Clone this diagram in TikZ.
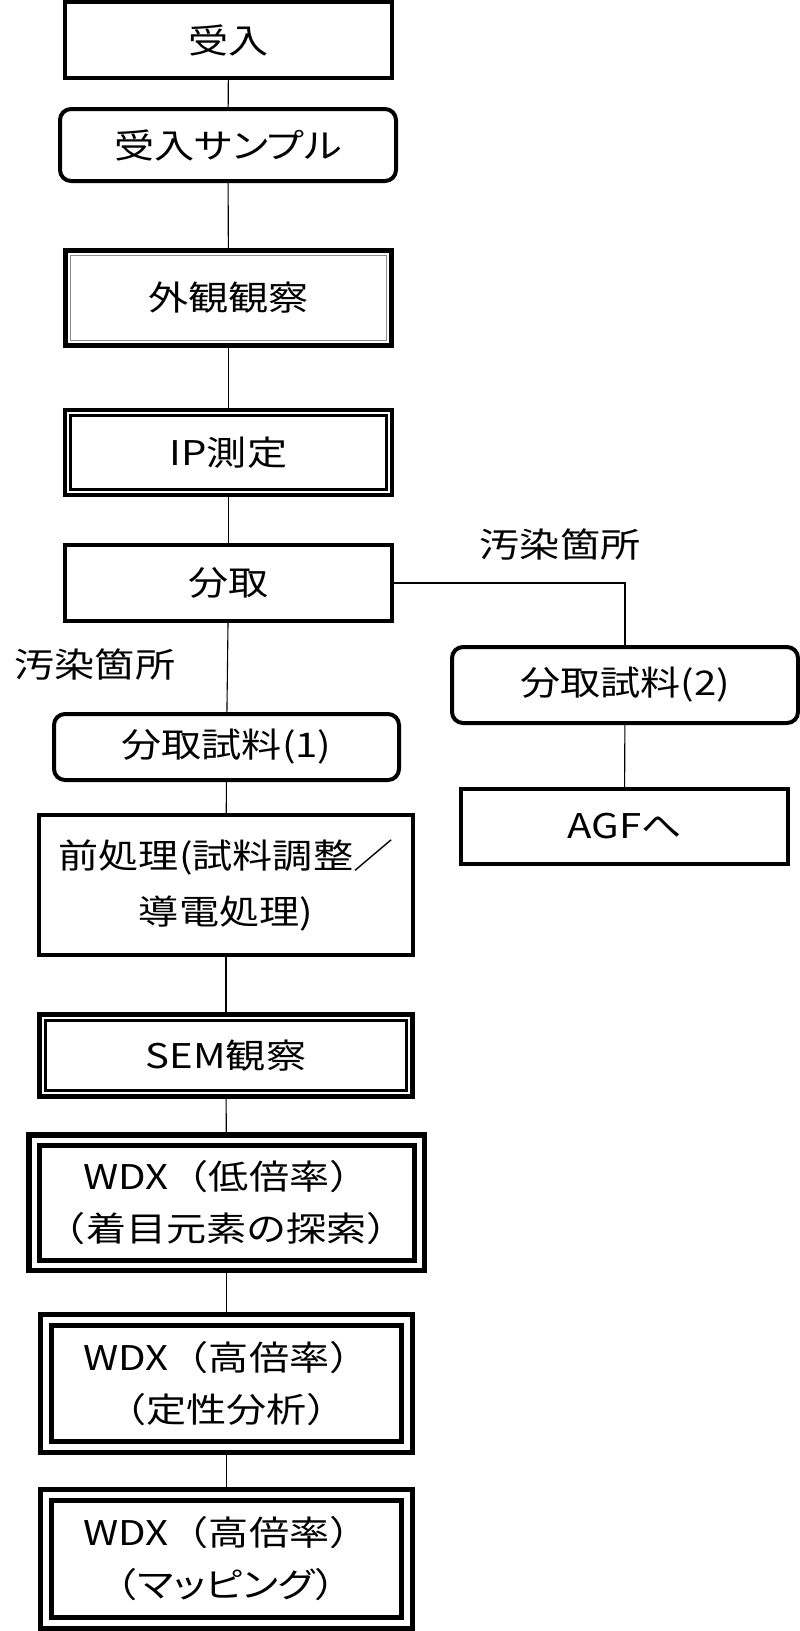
\documentclass[tikz,border=0pt]{standalone}
\usepackage{fontspec}
\setmainfont{Noto Sans CJK JP}[FakeStretch=1.18]
\newfontfamily\kanafont{Noto Sans CJK JP}[FakeStretch=1.18, RawFeature=+palt]
\begin{document}
\begin{tikzpicture}[x=1pt,y=-1pt]

    \tikzset{
      box/.style={
        draw,
        line width=4pt,
        inner sep=0pt,
        align=center,
        font=\fontsize{34}{52}\selectfont,
      },
      roundbox/.style={
        box,
        rounded corners=11pt,
      },
      dblbox/.style n args={4}{
        box,
        line width=#1,
        path picture={
          \draw[line width=#3,color=#4]
            ([shift={(#2,#2)}]path picture bounding box.south west) rectangle
            ([shift={(-#2,-#2)}]path picture bounding box.north east);
        },
      },
      tagtext/.style={font=\fontsize{34}{52}\selectfont, inner sep=0pt},
      link/.style={line width=1.1pt},
    }
    \useasboundingbox (0,0) rectangle (800,1631);

	\node[box, minimum width=327pt, minimum height=76pt] (ukeire) at (228.5,40) {受入};
	\node[roundbox, minimum width=336pt, minimum height=72pt] (ukesample) at (228,145) {受入{\kanafont サンプル}};
	\node[dblbox={5pt}{5pt}{1pt}{black!45}, minimum width=326pt, minimum height=95pt] (gaikan) at (228.5,298) {外観観察};
	\node[dblbox={4pt}{5.5pt}{3pt}{black}, minimum width=327pt, minimum height=85pt] (ipsoku) at (228.5,452.5) {IP測定};
	\node[box, minimum width=327pt, minimum height=76pt] (bunshu) at (228.5,583) {分取};
	\node[tagtext] (osen1) at (95,665) {汚染箇所};
	\node[roundbox, minimum width=345pt, minimum height=66pt] (bunshu1) at (226.5,747) {分取試料(1)};
	\node[tagtext] (osen2) at (560,545) {汚染箇所};
	\node[roundbox, minimum width=346pt, minimum height=76pt] (bunshu2) at (625,685) {分取試料(2)};
	\node[box, minimum width=327pt, minimum height=75pt] (agf) at (624.5,826.5) {AGFへ};
	\node[box, minimum width=374pt, minimum height=140pt] (maeshori) at (226,885) {前処理(試料調整／\\[4pt]導電処理)};
	\node[dblbox={5pt}{6pt}{3pt}{black}, minimum width=373pt, minimum height=82pt] (sem) at (226,1055.5) {SEM観察};
	\node[dblbox={5.5pt}{10.25pt}{5pt}{black}, minimum width=395.5pt, minimum height=135.5pt] (wdxlow) at (226.5,1202.5) {WDX（低倍率）\\（着目元素の探索）};
	\node[dblbox={5pt}{11pt}{5pt}{black}, minimum width=372pt, minimum height=138pt] (wdxqual) at (226.5,1383.5) {WDX（高倍率）\\（定性分析）};
	\node[dblbox={5pt}{11pt}{5pt}{black}, minimum width=372pt, minimum height=139pt] (wdxmap) at (226.5,1559) {WDX（高倍率）\\（{\kanafont マッピング}）};

	\foreach \a/\b in {ukeire/ukesample, ukesample/gaikan, gaikan/ipsoku, ipsoku/bunshu, bunshu/bunshu1, bunshu1/maeshori, maeshori/sem, sem/wdxlow, wdxlow/wdxqual, wdxqual/wdxmap, bunshu2/agf}
	  \draw[link] (\a) -- (\b);
	\draw[link] (bunshu.east) -| (bunshu2.north);

\end{tikzpicture}
\end{document}
